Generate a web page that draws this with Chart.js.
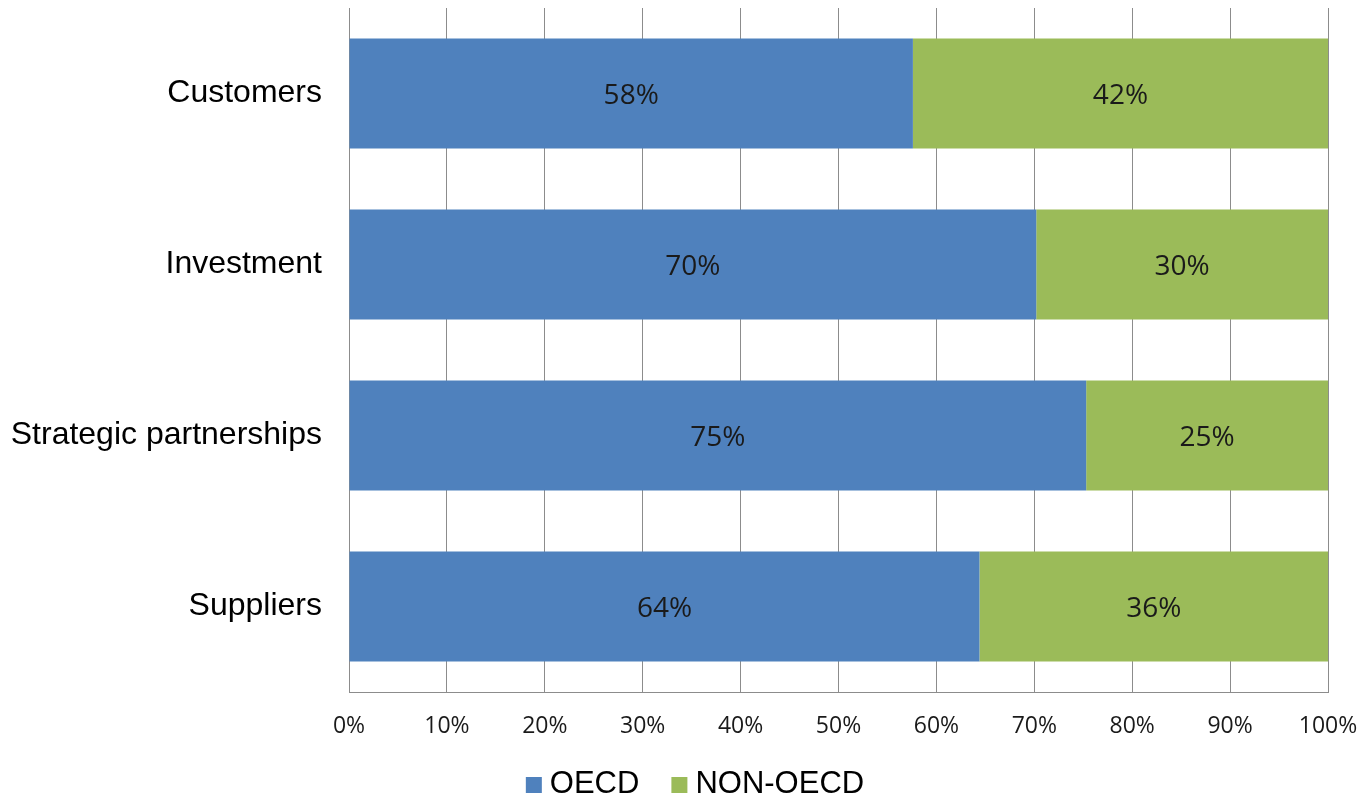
<!DOCTYPE html>
<html>
<head>
<meta charset="utf-8">
<script src="https://cdn.jsdelivr.net/npm/chart.js@4/dist/chart.umd.min.js"></script>
<style>
  html, body { margin: 0; padding: 0; background: #fff; }
  #wrap { width: 1361px; height: 798px; }
</style>
</head>
<body>
<div id="wrap"><canvas id="myChart" width="1361" height="798"></canvas></div>
<script>
// values (bar ends), labels show rounded shares
const categories = ['Customers', 'Investment', 'Strategic partnerships', 'Suppliers'];
const oecd = [57.6, 70.2, 75.3, 64.4];
const nonOecd = [42.4, 29.8, 24.7, 35.6];
const xTicks = [0, 10, 20, 30, 40, 50, 60, 70, 80, 90, 100];

const barLabels = {
    id: 'barLabels',
    afterDatasetsDraw(chart) {
        const ctx = chart.ctx;
        ctx.save();
        ctx.font = '28px "Open Sans", "Noto Sans", sans-serif';
        ctx.fillStyle = '#1a1a1a';
        ctx.textAlign = 'center';
        ctx.textBaseline = 'middle';
        chart.data.datasets.forEach((ds, i) => {
            chart.getDatasetMeta(i).data.forEach((bar, j) => {
                const x = (bar.x + bar.base) / 2;
                ctx.fillText(Math.round(ds.data[j]) + '%', x, bar.y + 3);
            });
        });
        ctx.restore();
    }
};

// simple legend drawn under the axis, like the excel one
const bottomLegend = {
    id: 'bottomLegend',
    afterDraw(chart) {
        const ctx = chart.ctx;
        const box = 16, gap = 8, itemGap = 32, cx = 695, cy = 784;
        ctx.save();
        ctx.font = '31px "Liberation Sans", Arial, sans-serif';
        ctx.textBaseline = 'middle';
        ctx.textAlign = 'left';
        const items = chart.data.datasets.map(ds => ({ text: ds.label, color: ds.backgroundColor, w: ctx.measureText(ds.label).width }));
        let total = 0;
        items.forEach((it, i) => { total += box + gap + it.w + (i < items.length - 1 ? itemGap : 0); });
        let x = cx - total / 2;
        items.forEach(it => {
            ctx.fillStyle = it.color;
            ctx.fillRect(x, cy - 7, box, box);
            x += box + gap;
            ctx.fillStyle = '#000';
            ctx.fillText(it.text, x, cy);
            x += it.w + itemGap;
        });
        ctx.restore();
    }
};

const ctx = document.getElementById('myChart');
const myChart = new Chart(ctx, {
    type: 'bar',
    data: {
        labels: categories,
        datasets: [{
            label: 'OECD',
            data: oecd,
            backgroundColor: '#4F81BD',
            categoryPercentage: 1,
            barPercentage: 0.643
        }, {
            label: 'NON-OECD',
            data: nonOecd,
            backgroundColor: '#9BBB59',
            categoryPercentage: 1,
            barPercentage: 0.643
        }]
    },
    options: {
        indexAxis: 'y',
        responsive: false,
        animation: false,
        layout: { padding: { top: 8, right: 33, left: 0, bottom: 44 } },
        plugins: {
            tooltip: { enabled: false },
            legend: { display: false }
        },
        scales: {
            x: {
                stacked: true,
                min: 0,
                max: 100,
                afterBuildTicks: (scale) => { scale.ticks = xTicks.map(v => ({ value: v })); },
                afterFit: (scale) => {
                    scale.height = 62;
                    scale.paddingLeft = 0;
                    scale.paddingRight = 0;
                },
                grid: { color: '#8c8c8c', drawTicks: false },
                border: { color: '#8c8c8c' },
                ticks: {
                    color: '#1a1a1a',
                    padding: 21,
                    font: { family: '"Open Sans", "Noto Sans", sans-serif', size: 23 },
                    callback: (v) => v + '%',
                    maxRotation: 0
                }
            },
            y: {
                stacked: true,
                afterFit: (scale) => {
                    scale.width = 349;
                    scale.paddingTop = 0;
                    scale.paddingBottom = 0;
                },
                grid: { display: false, drawTicks: false },
                border: { color: '#8c8c8c' },
                ticks: {
                    color: '#000',
                    padding: 27,
                    font: { family: '"Liberation Sans", Arial, sans-serif', size: 32 }
                }
            }
        }
    },
    plugins: [barLabels, bottomLegend]
});
</script>
</body>
</html>
